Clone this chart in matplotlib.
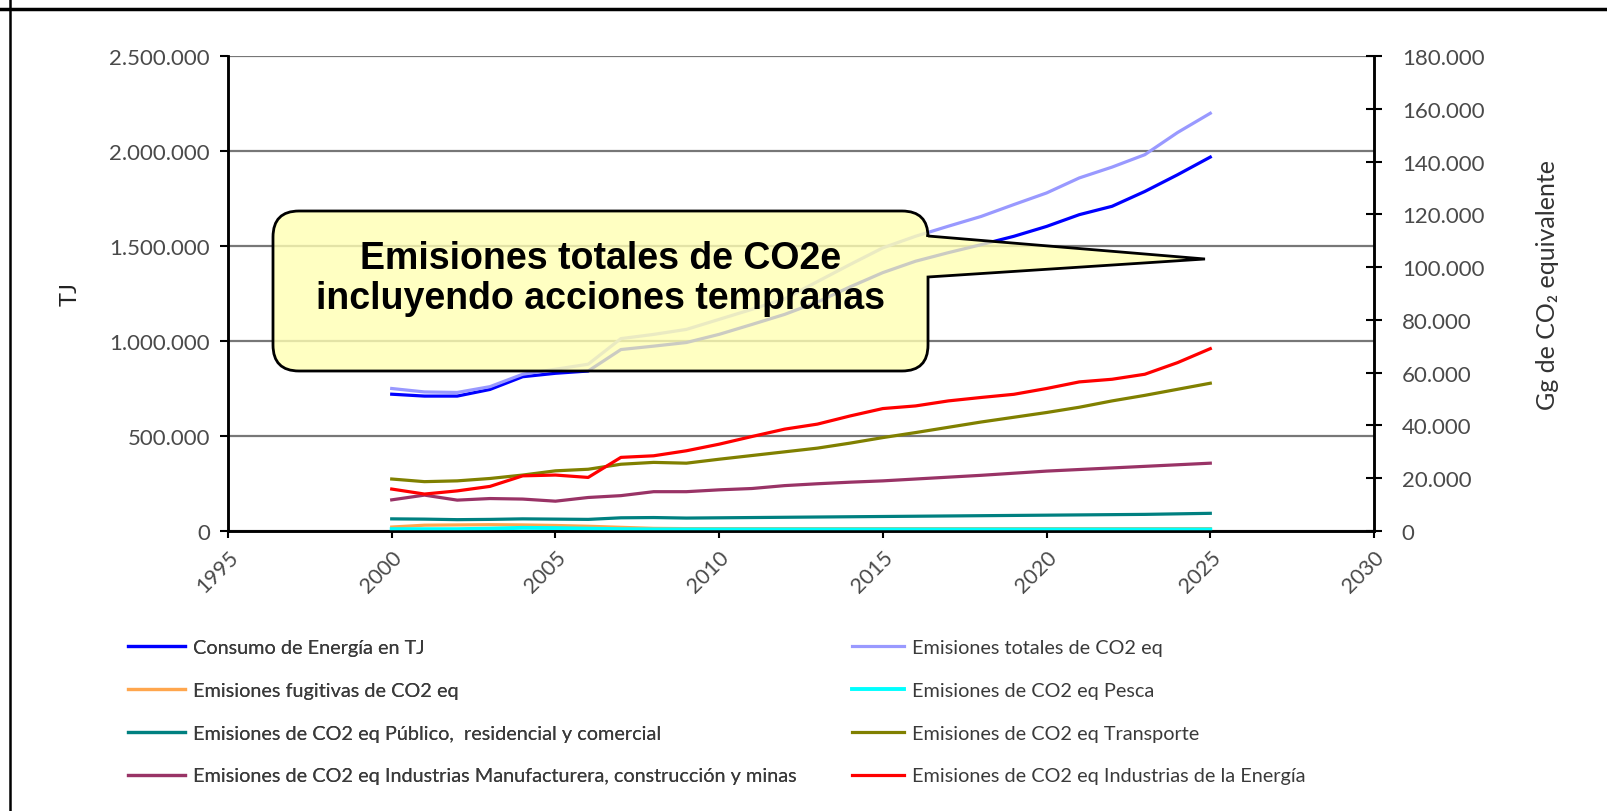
import matplotlib
matplotlib.use("Agg")
import matplotlib.pyplot as plt
from matplotlib.path import Path
from matplotlib.patches import PathPatch
from matplotlib.ticker import FuncFormatter

plt.rcParams['font.family'] = ['Lato', 'DejaVu Sans']

years = list(range(2000, 2026))

consumo_tj = [720000, 710000, 710000, 745000, 812000, 830000, 842000, 955000, 973000,
              992000, 1035000, 1087000, 1140000, 1205000, 1285000, 1360000, 1420000,
              1465000, 1507000, 1551000, 1603000, 1665000, 1709000, 1787000, 1875000, 1968000]
totales = [54000, 52700, 52500, 54700, 59400, 61300, 63200, 72900, 74500, 76400, 80200,
           84000, 88000, 94500, 101000, 107300, 111700, 115500, 119200, 123700, 128100,
           133800, 137900, 142600, 151000, 158300]
fugitivas = [1500, 2200, 2300, 2400, 2300, 2100, 1800, 1400, 1000, 900, 900, 900, 900,
             900, 900, 900, 900, 900, 900, 900, 900, 900, 900, 900, 900, 900]
pesca = [700, 700, 700, 900, 1200, 1100, 900, 700, 600, 600, 600, 600, 600, 600, 600,
         600, 600, 600, 600, 600, 600, 600, 600, 600, 600, 600]
publico = [4600, 4500, 4300, 4400, 4600, 4500, 4400, 5000, 5100, 4900, 5000, 5100, 5200,
           5300, 5400, 5500, 5600, 5700, 5800, 5900, 6000, 6100, 6200, 6300, 6500, 6700]
transporte = [19700, 18700, 19000, 19900, 21200, 22800, 23400, 25300, 26000, 25700, 27200,
              28600, 30000, 31400, 33300, 35400, 37300, 39300, 41300, 43100, 44900, 46900,
              49300, 51400, 53700, 56000]
manufactura = [11800, 13600, 11700, 12300, 12100, 11300, 12700, 13400, 14900, 14900, 15600,
               16100, 17200, 17900, 18500, 19000, 19700, 20400, 21100, 21900, 22700, 23300,
               23900, 24500, 25100, 25700]
energia = [15900, 14000, 15200, 16900, 20900, 21200, 20300, 27900, 28500, 30400, 32900,
           35800, 38600, 40500, 43600, 46400, 47400, 49300, 50600, 51800, 54000, 56500,
           57500, 59400, 63800, 69100]

labels = ["Consumo de Energía en TJ",
          "Emisiones totales de CO2 eq",
          "Emisiones fugitivas de CO2 eq",
          "Emisiones de CO2 eq Pesca",
          "Emisiones de CO2 eq Público,  residencial y comercial",
          "Emisiones de CO2 eq Transporte",
          "Emisiones de CO2 eq Industrias Manufacturera, construcción y minas",
          "Emisiones de CO2 eq Industrias de la Energía"]

W, H = 1608, 812
fig = plt.figure(figsize=(W / 100, H / 100), dpi=100)
ax = fig.add_axes([228 / W, 1 - 532 / H, (1374 - 228) / W, (532 - 57) / H])
ax2 = ax.twinx()

lw = 2.3
l_cons, = ax.plot(years, consumo_tj, color='#0000ff', lw=lw)
l_tot, = ax2.plot(years, totales, color='#9999ff', lw=lw)
l_fug, = ax2.plot(years, fugitivas, color='#ffa64d', lw=lw)
l_pes, = ax2.plot(years, pesca, color='#00ffff', lw=lw + 0.5)
l_pub, = ax2.plot(years, publico, color='#008080', lw=lw)
l_tra, = ax2.plot(years, transporte, color='#808000', lw=lw)
l_man, = ax2.plot(years, manufactura, color='#993366', lw=lw)
l_ene, = ax2.plot(years, energia, color='#ff0000', lw=lw)

thousands = FuncFormatter(lambda v, p: f"{int(round(v)):,}".replace(',', '.'))

ax.set_xlim(1995, 2030)
ax.set_xticks(range(1995, 2031, 5))
ax.set_ylim(0, 2500000)
ax.set_yticks(range(0, 2500001, 500000))
ax.yaxis.set_major_formatter(thousands)
ax2.set_ylim(0, 180000)
ax2.set_yticks(range(0, 180001, 20000))
ax2.yaxis.set_major_formatter(thousands)

ax.grid(axis='y', color='#777777', lw=1.6)
ax.set_axisbelow(True)
for a in (ax, ax2):
    a.spines['top'].set_visible(False)
    for s in ('left', 'right', 'bottom'):
        a.spines[s].set_color('black')
        a.spines[s].set_linewidth(1.8)

tick_col = '#4a4a4a'
ax.tick_params(axis='y', direction='out', length=6, width=1.5, labelsize=16,
               labelcolor=tick_col, pad=7)
ax.tick_params(axis='x', direction='out', length=5, width=1.5, labelsize=15.5,
               labelcolor=tick_col, pad=6)
ax2.tick_params(axis='y', direction='inout', length=12, width=1.5, labelsize=16,
                labelcolor=tick_col, pad=14)
for lab in ax.get_xticklabels():
    lab.set_rotation(45)
    lab.set_ha('right')
    lab.set_va('top')
    lab.set_rotation_mode('anchor')

ax.set_ylabel("TJ", fontsize=17, color='#222222')
ax.yaxis.set_label_coords((81 - 228) / 1146, 0.5)
ax2.set_ylabel("Gg de CO₂ equivalente", fontsize=18, color='#333333')
ax2.yaxis.set_label_coords((1536 - 228) / 1146, 0.52)

# legend: two columns, Excel row-wise order
handles = [l_cons, l_tot, l_fug, l_pes, l_pub, l_tra, l_man, l_ene]
leg_kw = dict(loc='upper left', frameon=False, fontsize=14.3, handlelength=2.85,
              handletextpad=0.4, labelspacing=1.3, borderpad=0, borderaxespad=0,
              labelcolor='#3a3a3a')
leg1 = fig.legend(handles[0::2], labels[0::2], bbox_to_anchor=(128 / W, 1 - 640 / H), **leg_kw)
fig.add_artist(leg1)
fig.legend(handles[1::2], labels[1::2], bbox_to_anchor=(852 / W, 1 - 640 / H),
           **dict(leg_kw, handlelength=2.6))

# overlay for slide frame and callout
ov = fig.add_axes([0, 0, 1, 1])
ov.set_xlim(0, W)
ov.set_ylim(H, 0)
ov.axis('off')
ov.plot([0, W], [10, 10], color='black', lw=2.5)
ov.plot([10, 10], [0, H], color='black', lw=1.8)

x0, x1, y0, y1, r = 273, 928, 212, 372, 26
pt_top, pt_bot, tip = 237, 278, (1205, 260)
verts = [(x0 + r, y0), (x1 - r, y0), (x1, y0), (x1, y0 + r), (x1, pt_top), tip,
         (x1, pt_bot), (x1, y1 - r), (x1, y1), (x1 - r, y1), (x0 + r, y1), (x0, y1),
         (x0, y1 - r), (x0, y0 + r), (x0, y0), (x0 + r, y0), (x0 + r, y0)]
codes = [Path.MOVETO, Path.LINETO, Path.CURVE3, Path.CURVE3, Path.LINETO, Path.LINETO,
         Path.LINETO, Path.LINETO, Path.CURVE3, Path.CURVE3, Path.LINETO, Path.CURVE3,
         Path.CURVE3, Path.LINETO, Path.CURVE3, Path.CURVE3, Path.CLOSEPOLY]
ov.add_patch(PathPatch(Path(verts, codes), facecolor=(1, 1, 0.70, 0.8),
                       edgecolor='black', lw=2))
ov.text((x0 + x1) / 2, 279, "Emisiones totales de CO2e\nincluyendo acciones tempranas",
        ha='center', va='center', fontsize=27, fontweight='bold',
        family='Liberation Sans', linespacing=1.12, color='black')

fig.savefig('out.png', dpi=100)
